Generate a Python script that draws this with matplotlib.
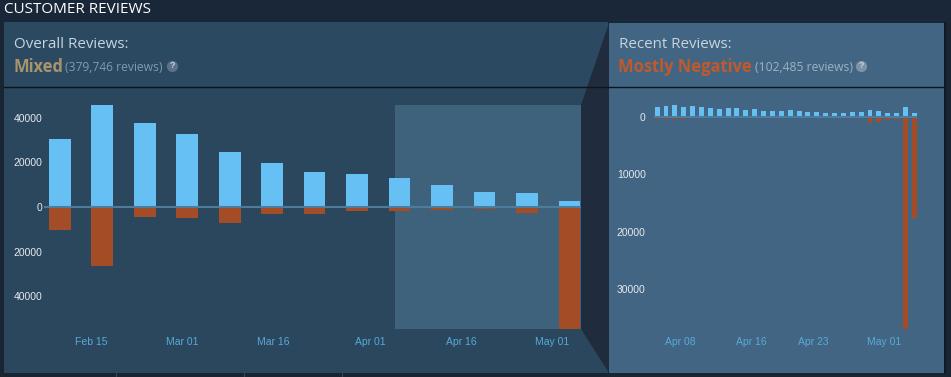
import datetime as dt
import matplotlib
matplotlib.use("Agg")
import matplotlib.pyplot as plt
import matplotlib.dates as mdates
from matplotlib.patches import Rectangle, Polygon

W, H = 951, 377

overall_start = "2024-02-08"
overall_up = [30500, 45800, 37700, 32800, 24700, 19800, 15700, 14800, 13000, 9900, 6700, 6300, 2900]
overall_down = [10300, 26500, 4500, 4900, 7200, 3100, 3100, 2000, 2000, 1500, 900, 2500, 54800]
overall_ticks = ["2024-02-15", "2024-03-01", "2024-03-16", "2024-04-01", "2024-04-16", "2024-05-01"]
overall_ticklabels = ["Feb 15", "Mar 01", "Mar 16", "Apr 01", "Apr 16", "May 01"]

recent_start = "2024-04-05"
recent_up = [1800, 1920, 2090, 1690, 1970, 1690, 1630, 1400, 1510, 1510, 1220, 1400, 1100, 990, 990,
             1220, 1100, 820, 820, 700, 700, 700, 870, 870, 1220, 990, 750, 750, 1750, 700]
recent_down = [280, 280, 280, 280, 220, 220, 220, 220, 220, 220, 150, 150, 150, 150, 150,
               120, 120, 100, 100, 100, 100, 100, 120, 120, 1100, 870, 520, 400, 37000, 17600]
recent_ticks = ["2024-04-08", "2024-04-16", "2024-04-23", "2024-05-01"]
recent_ticklabels = ["Apr 08", "Apr 16", "Apr 23", "May 01"]

C_BG = "#1a2534"
C_LEFT = "#2a475e"
C_RIGHT = "#416582"
C_LINK = "#202c3e"
C_ZOOM = "#3e627c"
C_UP = "#66c0f4"
C_DOWN = "#a34c25"
C_AXIS = "#4d7c9c"
C_TXT = "#c6d4df"
C_DATE = "#5aa9d9"
UI = ["Open Sans", "DejaVu Sans"]
ARIAL = ["Liberation Sans", "DejaVu Sans"]


def d(s):
    return mdates.date2num(dt.date.fromisoformat(s))


fig = plt.figure(figsize=(W / 100, H / 100), dpi=100, facecolor=C_BG)

bg = fig.add_axes([0, 0, 1, 1], zorder=0)
bg.set_xlim(0, W)
bg.set_ylim(H, 0)
bg.axis("off")
bg.add_patch(Rectangle((0, 0), W, 22, fc="#1a2739", ec="none"))
bg.add_patch(Rectangle((4, 22), 604, 351, fc=C_LEFT, ec="none"))
bg.add_patch(Rectangle((4, 22), 604, 64, fc="#2b4a62", ec="none"))
bg.add_patch(Rectangle((609, 23), 335, 350, fc=C_RIGHT, ec="none"))
bg.add_patch(Polygon([(609, 23), (581, 105), (581, 329), (609, 373)], fc=C_LINK, ec="none"))
bg.plot([4, 944], [86.5, 86.5], color="#0e141c", lw=1.0)
bg.plot([944.5, 944.5], [23, 373], color="#10161f", lw=1.2)
for x in [116, 244, 342]:
    bg.plot([x, x], [373, 377], color="#2f4a60", lw=0.8)

bg.text(4, 9.5, "CUSTOMER REVIEWS", color="#ffffff", fontsize=11, family=UI, va="center", ha="left")
bg.text(14, 45, "Overall Reviews:", color=C_TXT, fontsize=10.9, family=UI, va="center")
bg.text(13.5, 66.5, "Mixed", color="#a8946b", fontsize=11.9, family=UI, weight="bold", va="center")
bg.text(65, 67.5, "(379,746 reviews)", color="#7f9bb0", fontsize=8.7, family=UI, va="center")
bg.text(619, 45, "Recent Reviews:", color=C_TXT, fontsize=10.9, family=UI, va="center")
bg.text(618.5, 66.5, "Mostly Negative", color="#c05a2c", fontsize=11.9, family=UI, weight="bold", va="center")
bg.text(755, 67.5, "(102,485 reviews)", color="#9db2c2", fontsize=8.7, family=UI, va="center")
for cx, col in [(172, "#5d7288"), (861, "#7c93a8")]:
    bg.scatter([cx], [66], s=65, color=col, linewidths=0)
    bg.text(cx, 66, "?", color="#c6d4df", fontsize=6.5, family=ARIAL, weight="bold", ha="center", va="center")


def make_axes(x0, x1, y0, y1):
    ax = fig.add_axes([x0 / W, 1 - y1 / H, (x1 - x0) / W, (y1 - y0) / H], zorder=1)
    ax.patch.set_alpha(0)
    for s in ax.spines.values():
        s.set_visible(False)
    return ax


def style(ax, ticks, labels, yticks, pady):
    ax.set_xticks([d(t) for t in ticks], labels)
    ax.set_yticks(yticks, [str(abs(v)) for v in yticks])
    ax.tick_params(axis="x", length=0, pad=6, labelsize=7.5, labelcolor=C_DATE)
    ax.tick_params(axis="y", length=0, pad=pady, labelsize=7.5, labelcolor="#e4eaef")
    for t in ax.get_xticklabels() + ax.get_yticklabels():
        t.set_family(ARIAL)


# Overall
ax1 = make_axes(44, 581, 105, 329)
px_day = 6.07
x1_lo = d("2024-02-15") - (91 - 44) / px_day
x1_hi = d("2024-02-15") + (581 - 91) / px_day
ax1.set_xlim(x1_lo, x1_hi)
ax1.set_ylim(-54800, 45800)
xs1 = [d(overall_start) + 7 * i + 0.08 for i in range(len(overall_up))]
ax1.axvspan(d(recent_start), x1_hi, color=C_ZOOM, lw=0, zorder=0)
ax1.bar(xs1, overall_up, width=3.55, align="edge", color=C_UP, zorder=2)
ax1.bar(xs1, [-v for v in overall_down], width=3.55, align="edge", color=C_DOWN, zorder=2)
ax1.axhline(0, color=C_AXIS, lw=1.5, zorder=3)
style(ax1, overall_ticks, overall_ticklabels, [40000, 20000, 0, -20000, -40000], 1)

# Recent
ax2 = make_axes(654, 917, 105, 329)
px_day2 = 8.87
ax2.set_xlim(d("2024-04-08") - (680 - 654) / px_day2, d("2024-04-08") + (917 - 680) / px_day2)
ax2.set_ylim(-37000, 2094)
xs2 = [d(recent_start) + i + 0.14 for i in range(len(recent_up))]
ax2.bar(xs2, recent_up, width=0.56, align="edge", color=C_UP, zorder=2)
ax2.bar(xs2, [-v for v in recent_down], width=0.56, align="edge", color=C_DOWN, zorder=2)
ax2.axhline(0, color=C_AXIS, lw=1.5, zorder=3, xmax=0.995)
style(ax2, recent_ticks, recent_ticklabels, [0, -10000, -20000, -30000], 6)

fig.savefig("out.png", dpi=100, facecolor=fig.get_facecolor())
